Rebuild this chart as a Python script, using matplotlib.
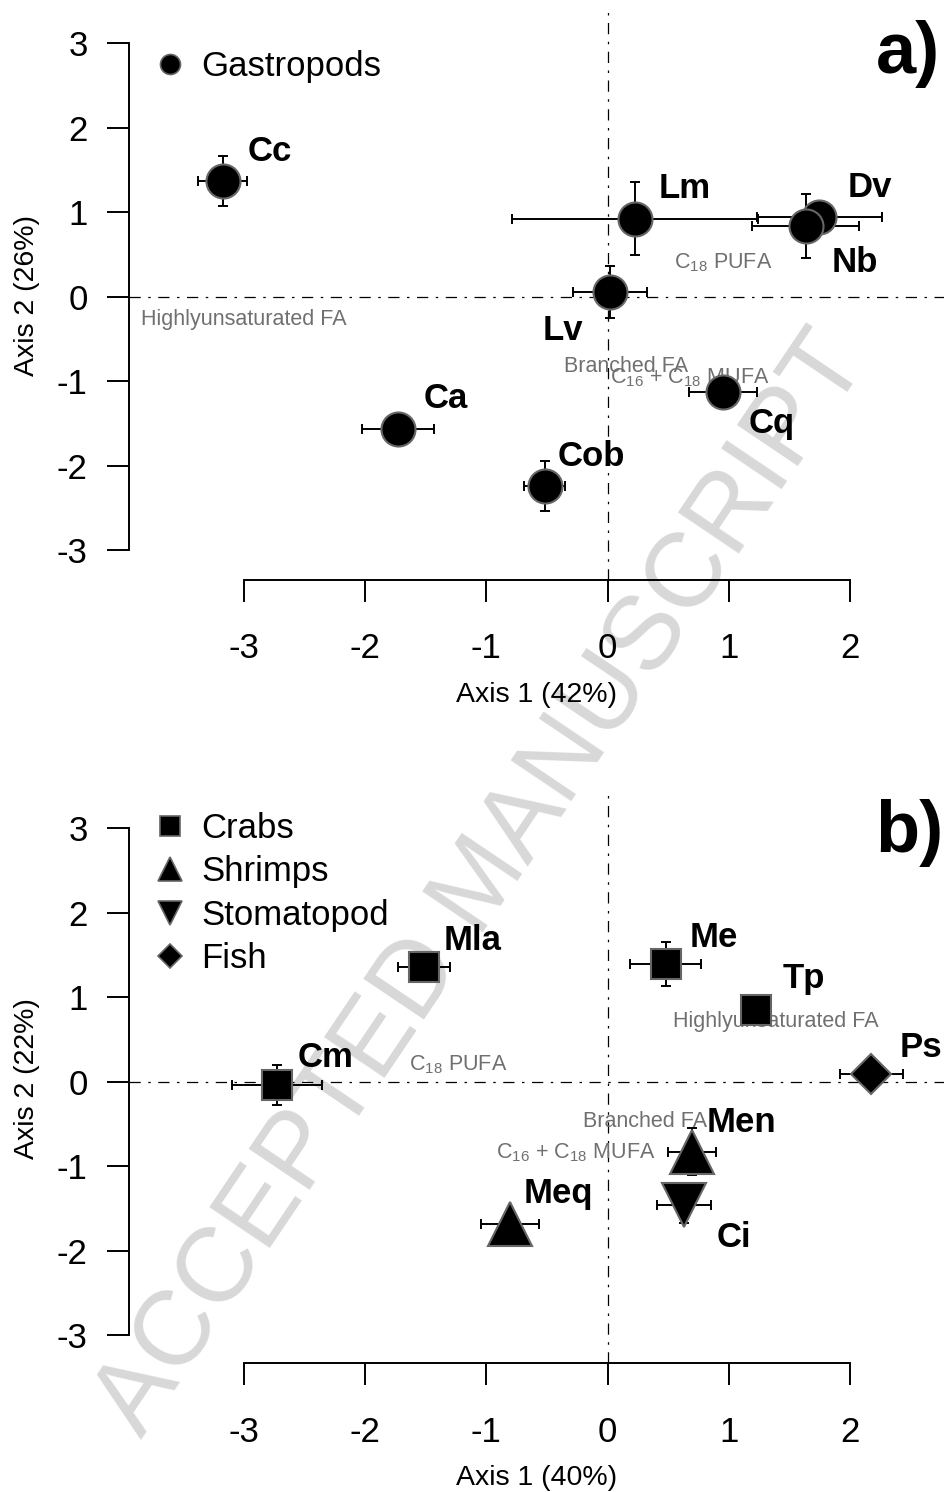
import matplotlib
matplotlib.use("Agg")
import matplotlib.pyplot as plt
from matplotlib.lines import Line2D

plt.rcParams['font.family'] = ['Liberation Sans', 'DejaVu Sans']
plt.rcParams['mathtext.fontset'] = 'custom'
plt.rcParams['mathtext.rm'] = 'Liberation Sans'
plt.rcParams['mathtext.it'] = 'Liberation Sans:italic'
plt.rcParams['mathtext.bf'] = 'Liberation Sans:bold'
plt.rcParams['mathtext.default'] = 'regular'

# ---------------- data: panel a (gastropods) ----------------
gastro_names = ['Cc', 'Lm', 'Dv', 'Nb', 'Lv', 'Cq', 'Ca', 'Cob']
gastro_x = [-3.176, 0.226, 1.748, 1.633, 0.02, 0.95, -1.73, -0.52]
gastro_y = [1.367, 0.92, 0.94, 0.83, 0.05, -1.13, -1.568, -2.243]
gastro_xerr = [0.204, 1.015, 0.516, 0.44, 0.305, 0.28, 0.30, 0.17]
gastro_yerr = [0.294, 0.43, 0.12, 0.38, 0.31, 0.19, 0.12, 0.30]
gastro_lab_x = [-2.967, 0.418, 1.98, 1.85, -0.533, 1.16, -1.516, -0.41]
gastro_lab_y = [1.604, 1.166, 1.178, 0.290, -0.515, -1.615, -1.320, -2.006]

load_a_text = ['Highlyunsaturated FA', 'C$_{18}$ PUFA', 'Branched FA',
               'C$_{16}$ + C$_{18}$ MUFA']
load_a_x = [-3.0, 0.956, 0.156, 0.68]
load_a_y = [-0.337, 0.337, -0.893, -1.024]

# ---------------- data: panel b (crustaceans & fish) ----------------
crab_names = ['Mla', 'Cm', 'Me', 'Tp']
crab_x = [-1.515, -2.73, 0.478, 1.225]
crab_y = [1.355, -0.041, 1.39, 0.85]
crab_xerr = [0.215, 0.37, 0.29, 0.0]
crab_yerr = [0.10, 0.24, 0.26, 0.0]
crab_lab_x = [-1.35, -2.555, 0.68, 1.447]
crab_lab_y = [1.556, 0.172, 1.592, 1.107]

shrimp_names = ['Men', 'Meq']
shrimp_x = [0.696, -0.805]
shrimp_y = [-0.83, -1.69]
shrimp_xerr = [0.20, 0.24]
shrimp_yerr = [0.28, 0.12]
shrimp_lab_x = [0.82, -0.69]
shrimp_lab_y = [-0.598, -1.438]

stoma_names = ['Ci']
stoma_x = [0.63]
stoma_y = [-1.46]
stoma_xerr = [0.22]
stoma_yerr = [0.22]
stoma_lab_x = [0.90]
stoma_lab_y = [-1.959]

fish_names = ['Ps']
fish_x = [2.177]
fish_y = [0.09]
fish_xerr = [0.26]
fish_yerr = [0.10]
fish_lab_x = [2.413]
fish_lab_y = [0.290]

load_b_text = ['Highlyunsaturated FA', 'C$_{18}$ PUFA', 'Branched FA',
               'C$_{16}$ + C$_{18}$ MUFA']
load_b_x = [1.385, -1.23, 0.31, -0.26]
load_b_y = [0.645, 0.136, -0.538, -0.905]

x_ticks = [-3, -2, -1, 0, 1, 2]
y_ticks = [-3, -2, -1, 0, 1, 2, 3]

# ---------------- styling ----------------
W, H = 944, 1492
fig = plt.figure(figsize=(W / 100, H / 100), dpi=100)

EDGE = '#666666'
GREY = '#707070'
TICKFS = 25
LABFS = 25
AXTFS = 20.5
LOADFS = 15.5

XLIM = (-3.9488, 2.7756)


def setup_axes(top_px, bottom_px, ylim, xlab, ylab):
    ax = fig.add_axes([129 / W, 1 - bottom_px / H, 1 - 129 / W, (bottom_px - top_px) / H])
    ax.set_facecolor('none')
    ax.set_xlim(*XLIM)
    ax.set_ylim(*ylim)
    for s in ('top', 'right'):
        ax.spines[s].set_visible(False)
    ax.spines['left'].set_bounds(-3, 3)
    ax.spines['bottom'].set_bounds(-3, 2)
    for s in ('left', 'bottom'):
        ax.spines[s].set_linewidth(1.4)
    ax.set_xticks(x_ticks)
    ax.set_yticks(y_ticks)
    ax.set_xticklabels([str(v) for v in x_ticks])
    ax.set_yticklabels([str(v) for v in y_ticks])
    ax.tick_params(axis='both', direction='out', length=15.8, width=1.4, labelsize=TICKFS)
    ax.tick_params(axis='x', pad=22)
    ax.tick_params(axis='y', pad=14)
    ax.axhline(0, color='black', lw=0.9, dashes=[9, 6, 2, 6], zorder=1)
    ax.axvline(0, color='black', lw=0.9, dashes=[9, 6, 2, 6], zorder=1)
    ax.set_xlabel(xlab, fontsize=AXTFS)
    ax.set_ylabel(ylab, fontsize=AXTFS)
    h = bottom_px - top_px
    ax.xaxis.set_label_coords(0.5, -(682 - 580) / h)
    ax.yaxis.set_label_coords(-(129 - 40) / 815, 0.5)
    return ax


def draw_group(ax, xs, ys, xe, ye, marker, ms, names, lx, ly):
    ax.errorbar(xs, ys, xerr=xe, yerr=ye, fmt='none', ecolor='black',
                elinewidth=1.4, capsize=3.6, capthick=1.4, zorder=3)
    ax.plot(xs, ys, ls='none', marker=marker, ms=ms, mfc='black', mec=EDGE,
            mew=1.5, zorder=4)
    for n, tx, ty in zip(names, lx, ly):
        ax.text(tx, ty, n, fontsize=LABFS, fontweight='bold', ha='left',
                va='baseline', zorder=5)


def draw_loadings(ax, texts, xs, ys):
    for t, tx, ty in zip(texts, xs, ys):
        ax.text(tx, ty, t, fontsize=LOADFS, color=GREY, ha='center',
                va='baseline', zorder=2)


# watermark
fig.text(482 / W, 1 - 885 / H, 'ACCEPTED MANUSCRIPT', rotation=56,
         rotation_mode='anchor', ha='center', va='center', fontsize=76,
         color='#d8d8d8', zorder=-1)

# ---------------- panel a ----------------
ax1 = setup_axes(10, 580, (-3.355, 3.391), 'Axis 1 (42%)', 'Axis 2 (26%)')
draw_loadings(ax1, load_a_text, load_a_x, load_a_y)
draw_group(ax1, gastro_x, gastro_y, gastro_xerr, gastro_yerr, 'o', 24.5,
           gastro_names, gastro_lab_x, gastro_lab_y)
h1 = [Line2D([], [], ls='none', marker='o', ms=14.4, mfc='black', mec=EDGE, mew=1.2)]
ax1.legend(h1, ['Gastropods'], loc='upper left', bbox_to_anchor=(0.029, 0.929),
           frameon=False, fontsize=LABFS, handlelength=1.0, handletextpad=0.39,
           borderpad=0, borderaxespad=0, labelspacing=0.30)
fig.text(876 / W, 1 - 73 / H, 'a)', fontsize=52, fontweight='bold', ha='left', va='baseline')

# ---------------- panel b ----------------
ax2 = setup_axes(795, 1363, (-3.331, 3.391), 'Axis 1 (40%)', 'Axis 2 (22%)')
draw_loadings(ax2, load_b_text, load_b_x, load_b_y)
draw_group(ax2, crab_x, crab_y, crab_xerr, crab_yerr, 's', 21.6,
           crab_names, crab_lab_x, crab_lab_y)
draw_group(ax2, shrimp_x, shrimp_y, shrimp_xerr, shrimp_yerr, '^', 31,
           shrimp_names, shrimp_lab_x, shrimp_lab_y)
draw_group(ax2, stoma_x, stoma_y, stoma_xerr, stoma_yerr, 'v', 31,
           stoma_names, stoma_lab_x, stoma_lab_y)
draw_group(ax2, fish_x, fish_y, fish_xerr, fish_yerr, 'D', 20.4,
           fish_names, fish_lab_x, fish_lab_y)
h2 = [Line2D([], [], ls='none', marker='s', ms=14.0, mfc='black', mec=EDGE, mew=1.2),
      Line2D([], [], ls='none', marker='^', ms=17.0, mfc='black', mec=EDGE, mew=1.2),
      Line2D([], [], ls='none', marker='v', ms=17.0, mfc='black', mec=EDGE, mew=1.2),
      Line2D([], [], ls='none', marker='D', ms=12.5, mfc='black', mec=EDGE, mew=1.2)]
ax2.legend(h2, ['Crabs', 'Shrimps', 'Stomatopod', 'Fish'], loc='upper left',
           bbox_to_anchor=(0.029, (1363 - 812) / 568), frameon=False, fontsize=LABFS,
           handlelength=1.0, handletextpad=0.39, borderpad=0, borderaxespad=0,
           labelspacing=0.30)
fig.text(875 / W, 1 - 852 / H, 'b)', fontsize=52, fontweight='bold', ha='left', va='baseline')

fig.savefig('out.png', dpi=100)
